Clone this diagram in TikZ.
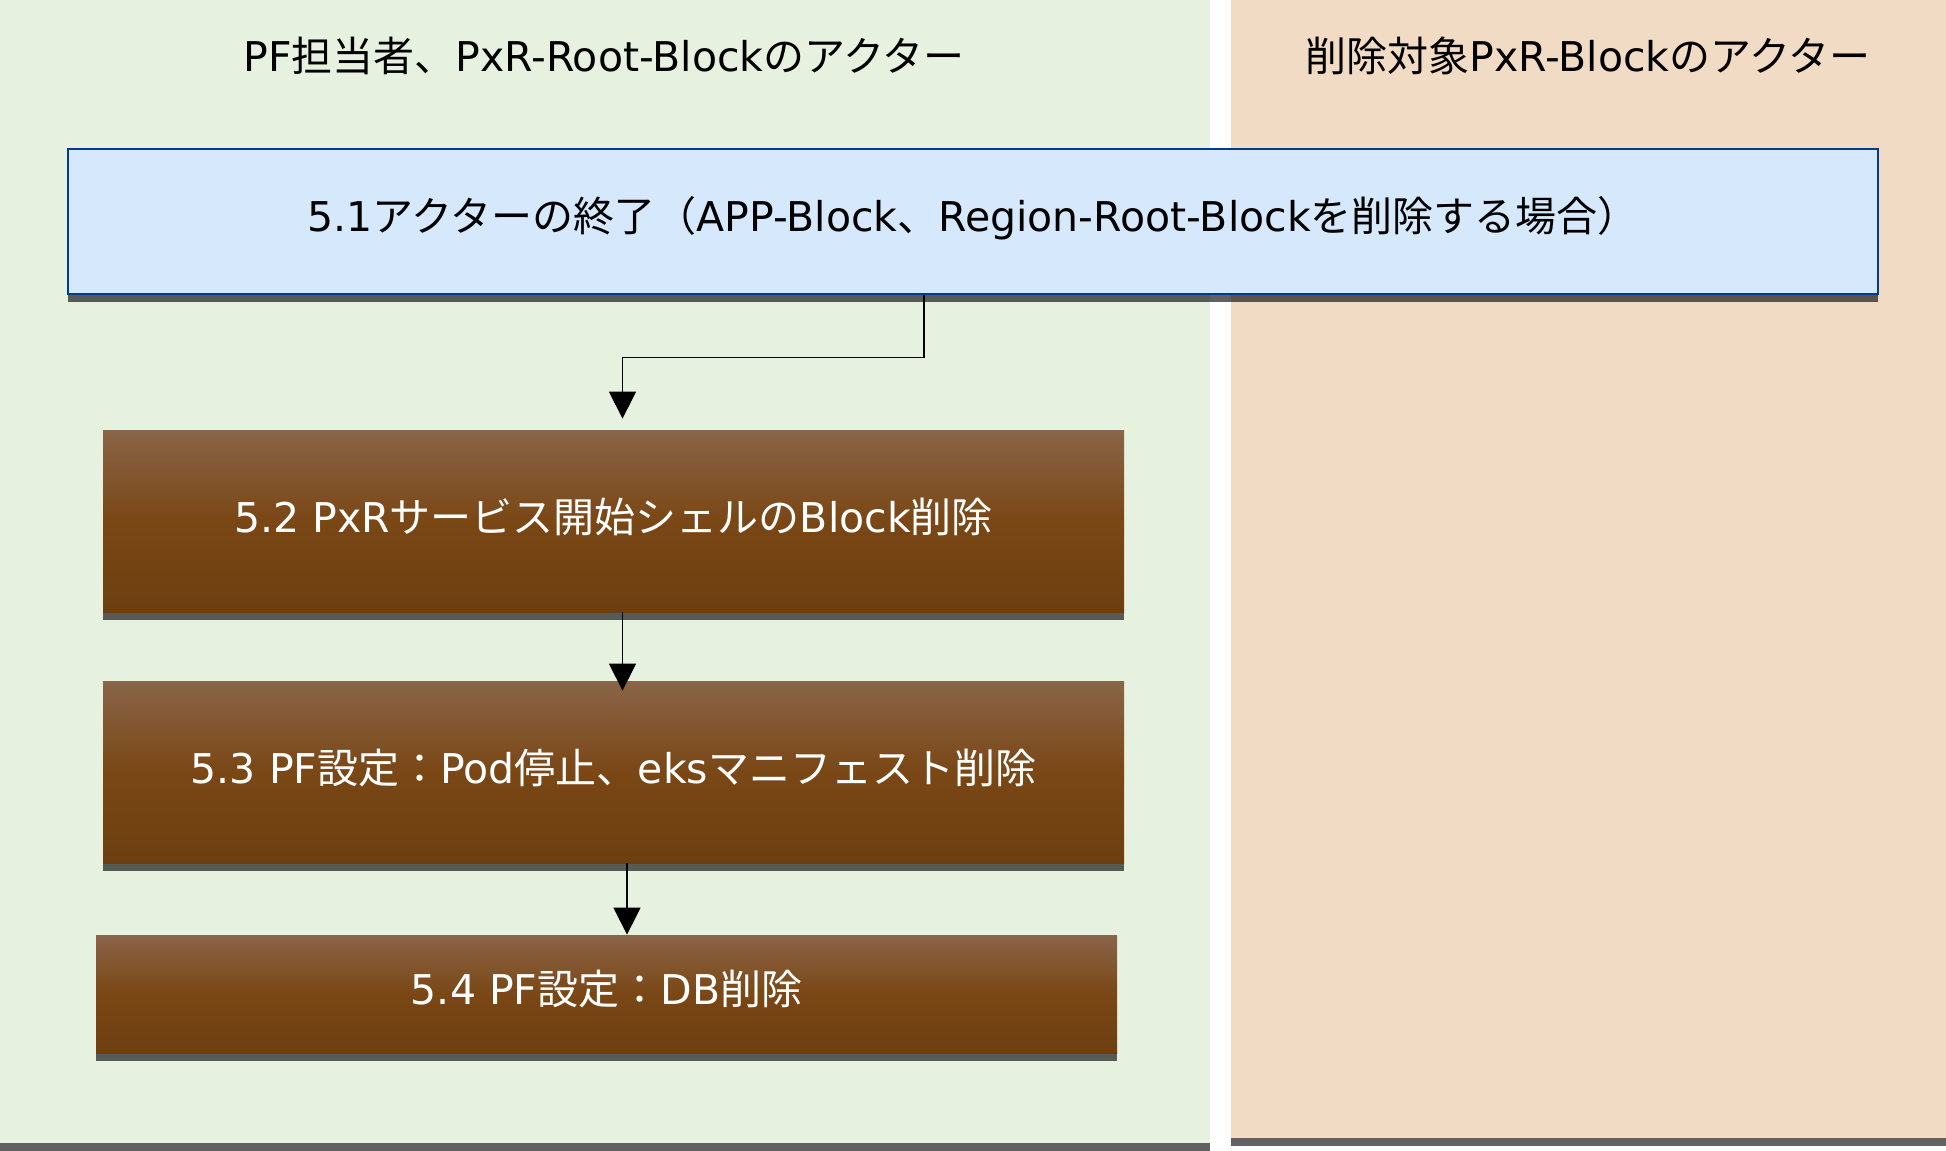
\documentclass[tikz,border=0pt]{standalone}
\usepackage{fontspec}
\setmainfont{DejaVu Sans}
\newfontfamily\jp{Noto Sans CJK JP}
\usetikzlibrary{arrows.meta,shadows}
\definecolor{lanegreen}{HTML}{E7F1E0}
\definecolor{laneorange}{HTML}{F2DBC4}
\definecolor{bluefill}{HTML}{D5E8FC}
\definecolor{blueline}{HTML}{003C8C}
\definecolor{browntop}{HTML}{8A6549}
\definecolor{brownmid}{HTML}{7A4715}
\definecolor{brownbot}{HTML}{6D3F10}
\begin{document}
\begin{tikzpicture}[x=.5pt, y=-.5pt, >={Triangle[width=13.5pt,length=13.5pt]},
 font=\fontsize{20.5pt}{24pt}\selectfont,
 bar/.style={general shadow={fill=black, fill opacity=.62, shadow yshift=-4pt}},
 startbox/.style={bar, draw=blueline, line width=1.3pt, fill=bluefill, text height=17pt, text depth=6.5pt, minimum width=905pt, minimum height=72.5pt},
 taskbox/.style={bar, top color=browntop, bottom color=brownbot, middle color=brownmid, text=white, inner sep=0pt, text height=17pt, text depth=6pt, minimum width=510.5pt, minimum height=91pt},
 flow/.style={->, line width=.7pt}]
 \useasboundingbox (0,0) rectangle (1946,1150);
 % lanes
 \path[bar, fill=lanegreen] (0,0) rectangle (1210,1143);
 \path[bar, fill=laneorange] (1231,0) rectangle (1946,1138);
 \node (pfactor) at (604,56) {PF{\jp 担当者、}PxR-Root-Block{\jp のアクター}};
 \node (pxractor) at (1588,56) {{\jp 削除対象}PxR-Block{\jp のアクター}};
 % steps
 \node[startbox] (step51) at (973,221.5) {5.1{\jp アクターの終了（}APP-Block{\jp 、}Region-Root-Block{\jp を削除する場合）}};
 \node[taskbox] (step52) at (613.5,521) {5.2 PxR{\jp サービス開始シェルの}Block{\jp 削除}};
 \node[taskbox] (step53) at (613.5,772) {5.3 PF{\jp 設定：}Pod{\jp 停止、}eks{\jp マニフェスト削除}};
 \node[taskbox, minimum height=59pt, text height=17.5pt, text depth=7pt] (step54) at (606.5,994) {5.4 PF{\jp 設定：}DB{\jp 削除}};
 % connectors
 \coordinate (c1) at ([xshift=-24.5pt]step51.south);
 \coordinate (c2) at ([xshift=4.5pt]step52.south);
 \coordinate (c3) at ([xshift=6.75pt]step53.south);
 \draw[flow] (c1) |- ([xshift=4.5pt,yshift=36pt]step52.north) -- ([xshift=4.5pt,yshift=5.5pt]step52.north);
 \draw[flow, shorten >=-5pt] (c2) -- (c2 |- step53.north);
 \draw[flow] (c3) -- (c3 |- step54.north);
\end{tikzpicture}
\end{document}
